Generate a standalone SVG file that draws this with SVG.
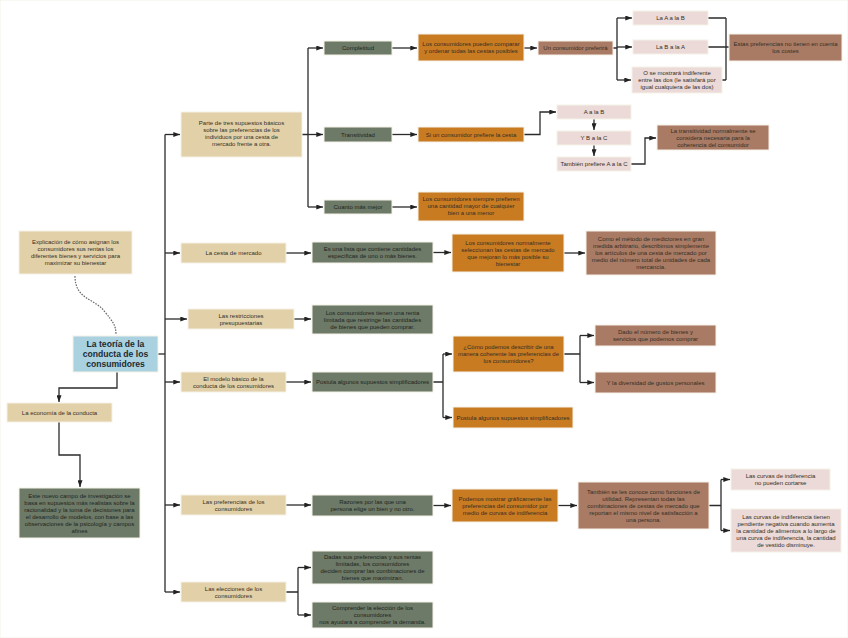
<svg xmlns="http://www.w3.org/2000/svg" width="848" height="638" viewBox="0 0 848 638">
<defs>
<marker id="ah" viewBox="0 0 8 6" refX="8" refY="3" markerWidth="7" markerHeight="5" markerUnits="userSpaceOnUse" orient="auto"><path d="M0 0 L8 3 L0 6 Z" fill="#222"/></marker>
<style>
rect{stroke:#f6f1e8;stroke-width:1}
.tan{fill:#e2d1a8}.blue{fill:#a9d1e0}.green{fill:#6d7a67}.orange{fill:#c97b22}.brown{fill:#a97b65}.pink{fill:#ebdad8}
text{font-family:"Liberation Sans",Arial,sans-serif;font-size:6px;text-anchor:middle;fill:#352e24}
.g text{fill:#22251d}
.title{font-size:8.6px;font-weight:bold;fill:#1e2a30}
.c{fill:none;stroke:#2b2b2b;stroke-width:1.3}
.a{marker-end:url(#ah)}
</style>
</defs>
<rect width="848" height="638" fill="#ffffff" stroke="none"/>
<g id="connectors">
<path class="c" d="M75 276 C75 300 95 298 105 312 C113 322 116 325 116 335" stroke="#666" stroke-dasharray="1.6 1.2" style="stroke:#666;stroke-width:1.2"/>
<path class="c a" d="M117 372 V388 H59 V402"/>
<path class="c a" d="M59 422 V455 H80 V487"/>
<path class="c" d="M158 354 H165"/>
<path class="c" d="M165 134.5 V592"/>
<path class="c a" d="M165 134.5 H180"/>
<path class="c a" d="M165 253 H180"/>
<path class="c a" d="M165 319 H187"/>
<path class="c a" d="M165 382 H180"/>
<path class="c a" d="M165 505 H180"/>
<path class="c a" d="M165 592 H180"/>
<path class="c" d="M302 134.5 H308 M308 48 V207"/>
<path class="c a" d="M308 48 H323"/>
<path class="c a" d="M308 134.5 H323"/>
<path class="c a" d="M308 207 H323"/>
<path class="c a" d="M392 48 H417"/>
<path class="c a" d="M524 48 H537"/>
<path class="c" d="M613 48 H617 M617 18 V80"/>
<path class="c a" d="M617 18 H632"/>
<path class="c a" d="M617 47 H632"/>
<path class="c a" d="M617 80 H631"/>
<path class="c" d="M708 18 H726 M708 47 H729 M722 80 H726 M726 18 V80"/>
<path class="c a" d="M392 134.5 H417"/>
<path class="c a" d="M524 134.5 H540 V112 H556"/>
<path class="c a" d="M594 119 V130"/>
<path class="c a" d="M594 145 V156"/>
<path class="c a" d="M631 164 H645 V138 H656"/>
<path class="c a" d="M392 207 H417"/>
<path class="c a" d="M286 253 H311"/>
<path class="c a" d="M433 252.5 H451"/>
<path class="c a" d="M564 253 H585"/>
<path class="c a" d="M294 319 H311"/>
<path class="c a" d="M286 382 H311"/>
<path class="c" d="M433 382 H443 M443 354 V417.5"/>
<path class="c a" d="M443 354 H452"/>
<path class="c a" d="M443 417.5 H452"/>
<path class="c" d="M564 354 H580 M580 335.5 V382.5"/>
<path class="c a" d="M580 335.5 H594"/>
<path class="c a" d="M580 382.5 H594"/>
<path class="c a" d="M286 505 H311"/>
<path class="c a" d="M433 505.5 H451"/>
<path class="c a" d="M558 505.5 H577"/>
<path class="c" d="M709 505.5 H721 M721 479.5 V530.5"/>
<path class="c a" d="M721 479.5 H730"/>
<path class="c a" d="M721 530.5 H730"/>
<path class="c" d="M286 592 H298 M298 567.5 V615"/>
<path class="c a" d="M298 567.5 H311"/>
<path class="c a" d="M298 615 H311"/>
</g>
<g id="n-explicacion"><rect class="tan" x="19" y="231" width="113" height="43"/><text x="75.5" y="244">Explicación de cómo asignan los</text><text x="75.5" y="251">consumidores sus rentas los</text><text x="75.5" y="258">diferentes bienes y servicios para</text><text x="75.5" y="265">maximizar su bienestar</text></g>
<g id="n-main"><rect class="blue" x="73" y="336" width="85" height="36"/><text class="title" x="115.5" y="347">La teoría de la</text><text class="title" x="115.5" y="357">conducta de los</text><text class="title" x="115.5" y="367">consumidores</text></g>
<g id="n-economia"><rect class="tan" x="7" y="403" width="105" height="19"/><text x="59.5" y="414.5">La economía de la conducta</text></g>
<g id="n-nuevo" class="g"><rect class="green" x="19" y="488" width="121" height="50"/><text x="79.5" y="497.5">Este nuevo campo de investigación se</text><text x="79.5" y="504.5">basa en supuestos más realistas sobre la</text><text x="79.5" y="511.5">racionalidad y la toma de decisiones para</text><text x="79.5" y="518.5">el desarrollo de modelos, con base a las</text><text x="79.5" y="525.5">observaciones de la psicología y campos</text><text x="79.5" y="532.5">afines</text></g>
<g id="n-parte"><rect class="tan" x="181" y="112" width="121" height="45"/><text x="241.5" y="125">Parte de tres supuestos básicos</text><text x="241.5" y="132">sobre las preferencias de los</text><text x="241.5" y="139">individuos por una cesta de</text><text x="241.5" y="146">mercado frente a otra.</text></g>
<g id="n-cesta"><rect class="tan" x="181" y="243" width="105" height="20"/><text x="233.5" y="255">La cesta de mercado</text></g>
<g id="n-restricciones"><rect class="tan" x="188" y="309" width="106" height="20"/><text x="241" y="317.5">Las restricciones</text><text x="241" y="324.5">presupuestarias</text></g>
<g id="n-modelo"><rect class="tan" x="181" y="372" width="105" height="20"/><text x="233.5" y="380.5">El modelo básico de la</text><text x="233.5" y="387.5">conducta de los consumidores</text></g>
<g id="n-preferencias"><rect class="tan" x="181" y="495" width="105" height="20"/><text x="233.5" y="503.5">Las preferencias de los</text><text x="233.5" y="510.5">consumidores</text></g>
<g id="n-elecciones"><rect class="tan" x="181" y="582" width="105" height="20"/><text x="233.5" y="590.5">Las elecciones de los</text><text x="233.5" y="597.5">consumidores</text></g>
<g id="n-completitud" class="g"><rect class="green" x="324" y="41" width="68" height="14"/><text x="358" y="50">Completitud</text></g>
<g id="n-transitividad" class="g"><rect class="green" x="324" y="127" width="68" height="15"/><text x="358" y="136.5">Transitividad</text></g>
<g id="n-cuanto" class="g"><rect class="green" x="324" y="200" width="68" height="14"/><text x="358" y="209">Cuanto más mejor</text></g>
<g id="n-comparar"><rect class="orange" x="418" y="34" width="106" height="27"/><text x="471" y="46">Los consumidores pueden comparar</text><text x="471" y="53">y ordenar todas las cestas posibles</text></g>
<g id="n-siun"><rect class="orange" x="418" y="127" width="106" height="15"/><text x="471" y="136.5">Si un consumidor prefiere la cesta</text></g>
<g id="n-siempre"><rect class="orange" x="418" y="192" width="106" height="29"/><text x="471" y="201">Los consumidores siempre prefieren</text><text x="471" y="208">una cantidad mayor de cualquier</text><text x="471" y="215">bien a una menor</text></g>
<g id="n-preferira"><rect class="brown" x="538" y="41" width="75" height="14"/><text x="575.5" y="50">Un consumidor preferirá</text></g>
<g id="n-lab"><rect class="pink" x="633" y="11" width="75" height="14"/><text x="670.5" y="20">La A a la B</text></g>
<g id="n-lba"><rect class="pink" x="633" y="40" width="75" height="14"/><text x="670.5" y="49">La B a la A</text></g>
<g id="n-indif"><rect class="pink" x="632" y="67" width="90" height="26"/><text x="677" y="75">O se mostrará indiferente</text><text x="677" y="82">entre las dos (le satisfará por</text><text x="677" y="89">igual cualquiera de las dos)</text></g>
<g id="n-costes"><rect class="brown" x="729" y="34" width="113" height="27"/><text x="785.5" y="46">Estas preferencias no tienen en cuenta</text><text x="785.5" y="53">los costes</text></g>
<g id="n-aab"><rect class="pink" x="557" y="105" width="74" height="14"/><text x="594" y="114">A a la B</text></g>
<g id="n-ybc"><rect class="pink" x="557" y="131" width="74" height="14"/><text x="594" y="140">Y B a la C</text></g>
<g id="n-tambienac"><rect class="pink" x="557" y="157" width="74" height="14"/><text x="594" y="166">También prefiere A a la C</text></g>
<g id="n-coherencia"><rect class="brown" x="657" y="125" width="112" height="25"/><text x="713" y="132.5">La transitividad normalmente se</text><text x="713" y="139.5">considera necesaria para la</text><text x="713" y="146.5">coherencia del consumidor</text></g>
<g id="n-lista" class="g"><rect class="green" x="312" y="242" width="121" height="21"/><text x="372.5" y="251">Es una lista que contiene cantidades</text><text x="372.5" y="258">específicas de uno o más bienes.</text></g>
<g id="n-normalmente"><rect class="orange" x="452" y="234" width="112" height="38"/><text x="508" y="244.5">Los consumidores normalmente</text><text x="508" y="251.5">seleccionan las cestas de mercado</text><text x="508" y="258.5">que mejoran lo más posible su</text><text x="508" y="265.5">bienestar</text></g>
<g id="n-metodo"><rect class="brown" x="586" y="231" width="130" height="44"/><text x="651" y="241">Como el método de mediciones en gran</text><text x="651" y="248">medida arbitrario, describimos simplemente</text><text x="651" y="255">los artículos de una cesta de mercado por</text><text x="651" y="262">medio del número total de unidades de cada</text><text x="651" y="269">mercancía.</text></g>
<g id="n-renta" class="g"><rect class="green" x="312" y="305" width="121" height="29"/><text x="372.5" y="314.5">Los consumidores tienen una renta</text><text x="372.5" y="321.5">limitada que restringe las cantidades</text><text x="372.5" y="328.5">de bienes que pueden comprar.</text></g>
<g id="n-postula" class="g"><rect class="green" x="312" y="372" width="121" height="20"/><text x="372.5" y="384">Postula algunos supuestos simplificadores</text></g>
<g id="n-como"><rect class="orange" x="453" y="336" width="111" height="36"/><text x="508.5" y="349">¿Cómo podemos describir de una</text><text x="508.5" y="356">manera coherente las preferencias de</text><text x="508.5" y="363">los consumidores?</text></g>
<g id="n-postula2"><rect class="orange" x="453" y="407" width="120" height="21"/><text x="513" y="419.5">Postula algunos supuestos simplificadores</text></g>
<g id="n-dado"><rect class="brown" x="595" y="325" width="121" height="21"/><text x="655.5" y="334">Dado el número de bienes y</text><text x="655.5" y="341">servicios que podemos comprar</text></g>
<g id="n-diversidad"><rect class="brown" x="595" y="372" width="121" height="21"/><text x="655.5" y="384.5">Y la diversidad de gustos personales</text></g>
<g id="n-razones" class="g"><rect class="green" x="312" y="495" width="121" height="21"/><text x="372.5" y="504">Razones por las que una</text><text x="372.5" y="511">persona elige un bien y no otro.</text></g>
<g id="n-podemos"><rect class="orange" x="452" y="489" width="106" height="33"/><text x="505" y="500.5">Podemos mostrar gráficamente las</text><text x="505" y="507.5">preferencias del consumidor por</text><text x="505" y="514.5">medio de curvas de indiferencia</text></g>
<g id="n-utilidad"><rect class="brown" x="578" y="482" width="131" height="47"/><text x="643.5" y="493.5">También se les conoce como funciones de</text><text x="643.5" y="500.5">utilidad. Representan todas las</text><text x="643.5" y="507.5">combinaciones de cestas de mercado que</text><text x="643.5" y="514.5">reportan el mismo nivel de satisfacción a</text><text x="643.5" y="521.5">una persona.</text></g>
<g id="n-cortarse"><rect class="pink" x="731" y="469" width="99" height="21"/><text x="780.5" y="478">Las curvas de indiferencia</text><text x="780.5" y="485">no pueden cortarse</text></g>
<g id="n-pendiente"><rect class="pink" x="731" y="509" width="110" height="43"/><text x="786" y="518.5">Las curvas de indiferencia tienen</text><text x="786" y="525.5">pendiente negativa cuando aumenta</text><text x="786" y="532.5">la cantidad de alimentos a lo largo de</text><text x="786" y="539.5">una curva de indiferencia, la cantidad</text><text x="786" y="546.5">de vestido disminuye.</text></g>
<g id="n-dadas" class="g"><rect class="green" x="312" y="551" width="121" height="33"/><text x="372.5" y="559">Dadas sus preferencias y sus rentas</text><text x="372.5" y="566">limitadas, los consumidores</text><text x="372.5" y="573">deciden comprar las combinaciones de</text><text x="372.5" y="580">bienes que maximizan.</text></g>
<g id="n-comprender" class="g"><rect class="green" x="312" y="602" width="121" height="26"/><text x="372.5" y="609.5">Comprender la elección de los</text><text x="372.5" y="616.5">consumidores</text><text x="372.5" y="623.5">nos ayudará a comprender la demanda.</text></g>
</svg>
